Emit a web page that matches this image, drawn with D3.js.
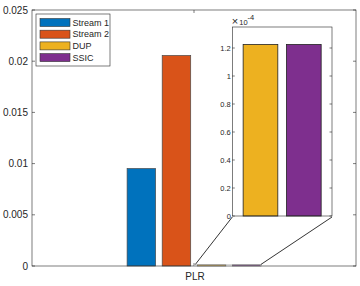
<!DOCTYPE html>
<html>
<head>
<meta charset="utf-8">
<script src="https://cdn.jsdelivr.net/npm/d3@7"></script>
<style>
  body { margin: 0; background: #fff; }
  text { font-family: "Liberation Sans", Arial, sans-serif; fill: #262626; }
</style>
</head>
<body>
<svg id="chart" width="360" height="286" viewBox="0 0 360 286"></svg>
<script>
// ---- data ----
const categories = ["PLR"];
const seriesNames = ["Stream 1", "Stream 2", "DUP", "SSIC"];
const seriesColors = ["#0072BD", "#D95319", "#EDB120", "#7E2F8E"];
const plrValues = [0.00952, 0.02056, 0.000122, 0.000122];
const mainTicks = [0, 0.005, 0.01, 0.015, 0.02, 0.025];
const insetNames = ["DUP", "SSIC"];
const insetValues = [1.225, 1.225];   // x 10^-4
const insetTicks = [0, 0.2, 0.4, 0.6, 0.8, 1, 1.2];

const svg = d3.select("#chart");
const axisColor = "#262626";

/* ----- main axes ----- */
const m = {left: 32, right: 356, top: 10, bottom: 266};

let x = d3.scaleBand().domain(categories).range([m.left, m.right]);
let xIn = d3.scaleBand().domain(seriesNames)
    .range([-66.9, 66.9]).paddingInner(0.188).paddingOuter(0);
let y = d3.scaleLinear().domain([0, 0.025]).range([m.bottom, m.top]);

let main = svg.append("g");

// bars
main.selectAll(".bar")
    .data(seriesNames.map((s, i) => ({name: s, value: plrValues[i], color: seriesColors[i]})))
    .enter()
    .append("rect")
    .attr("class", "bar")
    .attr("x", d => x("PLR") + x.bandwidth() / 2 + xIn(d.name))
    .attr("width", xIn.bandwidth())
    .attr("y", d => y(d.value))
    .attr("height", d => y(0) - y(d.value))
    .attr("fill", d => d.color)
    .attr("stroke", "#4a4a4a")
    .attr("stroke-width", 0.7);

// box
main.append("rect")
    .attr("x", m.left).attr("y", m.top)
    .attr("width", m.right - m.left).attr("height", m.bottom - m.top)
    .attr("fill", "none").attr("stroke", axisColor).attr("stroke-width", 0.6);

// y ticks left + right
mainTicks.forEach(t => {
    main.append("line")
        .attr("x1", m.left).attr("x2", m.left + 3)
        .attr("y1", y(t)).attr("y2", y(t))
        .attr("stroke", axisColor).attr("stroke-width", 0.6);
    main.append("line")
        .attr("x1", m.right).attr("x2", m.right - 3)
        .attr("y1", y(t)).attr("y2", y(t))
        .attr("stroke", axisColor).attr("stroke-width", 0.6);
    main.append("text")
        .attr("x", m.left - 4).attr("y", y(t))
        .attr("dy", "0.35em")
        .attr("text-anchor", "end")
        .attr("font-size", 10)
        .text(t === 0 ? "0" : String(t));
});

// x tick
let cx = x("PLR") + x.bandwidth() / 2;
main.append("line")
    .attr("x1", cx).attr("x2", cx).attr("y1", m.top).attr("y2", m.top + 3)
    .attr("stroke", axisColor).attr("stroke-width", 0.6);
main.append("line")
    .attr("x1", cx).attr("x2", cx).attr("y1", m.bottom).attr("y2", m.bottom - 3)
    .attr("stroke", axisColor).attr("stroke-width", 0.6);
main.append("text")
    .attr("x", cx + 1).attr("y", m.bottom + 14)
    .attr("text-anchor", "middle")
    .attr("font-size", 10)
    .text("PLR");

/* ----- zoomed region + connector lines ----- */
const ins = {left: 232.3, right: 332, top: 27, bottom: 216};

let zx0 = cx + xIn("DUP") - 3;
let zx1 = cx + xIn("SSIC") + xIn.bandwidth();
let zy = y(0.00015);

main.append("rect")
    .attr("x", zx0).attr("y", zy)
    .attr("width", zx1 - zx0).attr("height", y(0) - zy)
    .attr("fill", "none").attr("stroke", "#bbb").attr("stroke-width", 0.6);

main.append("line")
    .attr("x1", ins.left).attr("y1", ins.bottom + 1)
    .attr("x2", zx0 + 1).attr("y2", zy)
    .attr("stroke", "#000").attr("stroke-width", 0.8);
main.append("line")
    .attr("x1", ins.right).attr("y1", ins.bottom + 1)
    .attr("x2", zx1).attr("y2", zy)
    .attr("stroke", "#000").attr("stroke-width", 0.8);

/* ----- inset axes ----- */
let xi = d3.scaleBand().domain(insetNames).range([ins.left, ins.right])
    .paddingInner(0.2).paddingOuter(0.25);
let yi = d3.scaleLinear().domain([0, 1.35]).range([ins.bottom, ins.top]);

let inset = svg.append("g");

inset.append("rect")
    .attr("x", ins.left).attr("y", ins.top)
    .attr("width", ins.right - ins.left).attr("height", ins.bottom - ins.top)
    .attr("fill", "#fff");

inset.selectAll(".ibar")
    .data(insetNames.map((s, i) => ({name: s, value: insetValues[i], color: seriesColors[i + 2]})))
    .enter()
    .append("rect")
    .attr("class", "ibar")
    .attr("x", d => xi(d.name))
    .attr("width", xi.bandwidth())
    .attr("y", d => yi(d.value))
    .attr("height", d => yi(0) - yi(d.value))
    .attr("fill", d => d.color)
    .attr("stroke", "#222")
    .attr("stroke-width", 0.8);

inset.append("rect")
    .attr("x", ins.left).attr("y", ins.top)
    .attr("width", ins.right - ins.left).attr("height", ins.bottom - ins.top)
    .attr("fill", "none").attr("stroke", axisColor).attr("stroke-width", 0.6);

insetTicks.forEach(t => {
    inset.append("line")
        .attr("x1", ins.left).attr("x2", ins.left + 2.5)
        .attr("y1", yi(t)).attr("y2", yi(t))
        .attr("stroke", axisColor).attr("stroke-width", 0.6);
    inset.append("line")
        .attr("x1", ins.right).attr("x2", ins.right - 2.5)
        .attr("y1", yi(t)).attr("y2", yi(t))
        .attr("stroke", axisColor).attr("stroke-width", 0.6);
    inset.append("text")
        .attr("x", ins.left - 1.5).attr("y", yi(t))
        .attr("dy", "0.35em")
        .attr("text-anchor", "end")
        .attr("font-size", 7.5)
        .text(String(t));
});

// exponent label
let expo = inset.append("text")
    .attr("x", ins.left - 0.5).attr("y", ins.top - 2.5)
    .attr("font-size", 11);
expo.append("tspan").text("\u00d7");
expo.append("tspan").attr("font-size", 7.5).attr("dx", 1).text("10");
expo.append("tspan").attr("dy", -5).attr("font-size", 7.5).text("-4");

/* ----- legend ----- */
let legend = svg.append("g");
legend.append("rect")
    .attr("x", 36).attr("y", 14).attr("width", 74).attr("height", 52)
    .attr("fill", "#fff").attr("stroke", axisColor).attr("stroke-width", 0.6);

seriesNames.forEach((s, i) => {
    let ly = 22.5 + i * 11.7;
    legend.append("rect")
        .attr("x", 40).attr("y", ly - 4).attr("width", 30).attr("height", 8)
        .attr("fill", seriesColors[i]).attr("stroke", "#333").attr("stroke-width", 0.6);
    legend.append("text")
        .attr("x", 72.5).attr("y", ly).attr("dy", "0.35em")
        .attr("font-size", 9)
        .attr("fill", "#000")
        .text(s);
});
</script>
</body>
</html>
